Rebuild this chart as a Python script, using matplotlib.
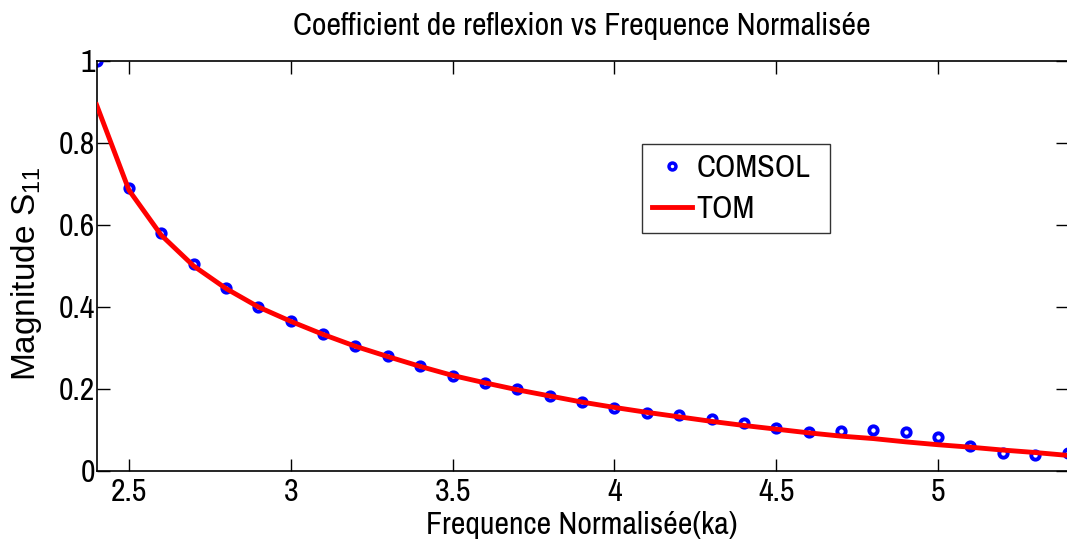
import matplotlib
matplotlib.use("Agg")
import matplotlib.pyplot as plt

ka = [2.4, 2.5, 2.6, 2.7, 2.8, 2.9, 3.0, 3.1, 3.2, 3.3, 3.4, 3.5, 3.6, 3.7, 3.8, 3.9,
      4.0, 4.1, 4.2, 4.3, 4.4, 4.5, 4.6, 4.7, 4.8, 4.9, 5.0, 5.1, 5.2, 5.3, 5.4]
comsol = [1.0, 0.690, 0.580, 0.505, 0.446, 0.400, 0.366, 0.334, 0.305, 0.280, 0.256,
          0.232, 0.215, 0.200, 0.183, 0.168, 0.154, 0.141, 0.137, 0.126, 0.116, 0.104,
          0.095, 0.097, 0.099, 0.096, 0.082, 0.060, 0.043, 0.040, 0.045]
tom = [0.893, 0.685, 0.575, 0.500, 0.445, 0.400, 0.365, 0.333, 0.304, 0.279, 0.255,
       0.233, 0.215, 0.198, 0.183, 0.168, 0.155, 0.143, 0.132, 0.121, 0.111, 0.102,
       0.093, 0.085, 0.079, 0.071, 0.064, 0.058, 0.051, 0.045, 0.038]
xticks = [2.5, 3, 3.5, 4, 4.5, 5]
xticklabels = ["2.5", "3", "3.5", "4", "4.5", "5"]
yticks = [0, 0.2, 0.4, 0.6, 0.8, 1]
yticklabels = ["0", "0.2", "0.4", "0.6", "0.8", "1"]

FONT = ['Archivo Narrow', 'Liberation Sans', 'DejaVu Sans']
plt.rcParams['font.family'] = FONT
plt.rcParams['mathtext.fontset'] = 'custom'
plt.rcParams['mathtext.rm'] = 'Liberation Sans'
plt.rcParams['mathtext.it'] = 'Liberation Sans'
plt.rcParams['mathtext.sf'] = 'Liberation Sans'

fig = plt.figure(figsize=(10.67, 5.47), dpi=100)
ax = fig.add_axes([0.0905, 0.139, 0.91, 0.7495])

ax.plot(ka, comsol, linestyle='none', marker='o', ms=6, mew=2.8, mec='#0000ff',
        mfc='white', label='COMSOL', zorder=2)
ax.plot(ka, tom, color='#ff0000', lw=3.5, label='TOM', zorder=3)

ax.set_xlim(2.4, 5.4)
ax.set_ylim(0, 1)
ax.set_xticks(xticks)
ax.set_xticklabels(xticklabels)
ax.set_yticks(yticks)
ax.set_yticklabels(yticklabels)
ax.tick_params(direction='in', length=9, width=1, labelsize=23, top=True, right=True)
ax.tick_params(axis='x', pad=5)
ax.tick_params(axis='y', pad=1)
for s in ax.spines.values():
    s.set_linewidth(1.2)

ax.set_title('Coefficient de reflexion vs Frequence Normalisée', fontsize=23, pad=19)
ax.set_xlabel('Frequence Normalisée(ka)', fontsize=23, labelpad=4)
ax.set_ylabel('Magnitude S$_{11}$', fontsize=24, labelpad=10,
              family=['Liberation Sans', 'DejaVu Sans'])
ax.yaxis.set_label_coords(-0.054, 0.48)

leg = ax.legend(loc='upper left', bbox_to_anchor=(0.562, 0.583, 0.193, 0.215),
                mode='expand', fontsize=23,
                frameon=True, fancybox=False, edgecolor='black', handlelength=1.25,
                borderpad=0.32, labelspacing=0.4, handletextpad=0.12,
                borderaxespad=0.0)
leg.get_frame().set_linewidth(1.0)
for h in leg.legend_handles:
    try:
        h.set_markersize(5)
        h.set_markeredgewidth(2.5)
    except Exception:
        pass

fig.savefig('out.png', dpi=100)
